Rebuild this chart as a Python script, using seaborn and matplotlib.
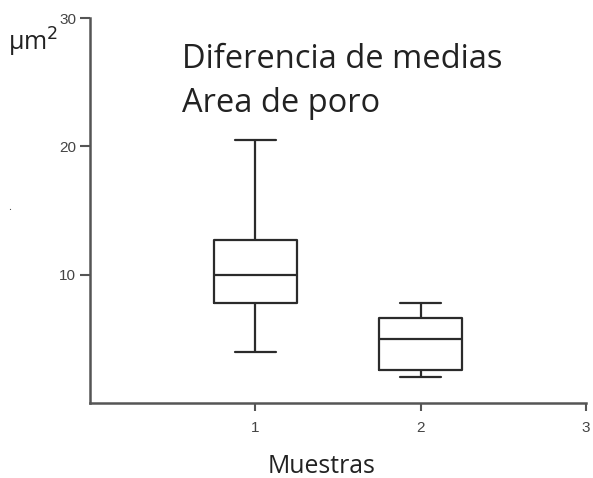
import numpy as np
import pandas as pd
import matplotlib
matplotlib.use("Agg")
import matplotlib.pyplot as plt
import seaborn as sns

# ========== data ==========
muestras = [1, 2]
# min, Q1, median, Q3, max for each sample
sample1 = [4.0, 7.8, 10.0, 12.7, 20.5]
sample2 = [2.0, 2.6, 5.0, 6.6, 7.8]
y_ticks = [10, 20, 30]
x_ticks = [1, 2, 3]

df = pd.DataFrame({
    "Muestra": [muestras[0]] * len(sample1) + [muestras[1]] * len(sample2),
    "Area": sample1 + sample2,
})

sns.set_style("white")
plt.rcParams["font.family"] = ["Open Sans", "DejaVu Sans"]

fig = plt.figure(figsize=(5.93, 4.78), dpi=100)
ax = fig.add_axes([0.152, 0.157, 0.836, 0.805])

sns.boxplot(data=df, x="Muestra", y="Area", native_scale=True, whis=(0, 100),
            width=0.5, fill=False, color="#2b2b2b", linewidth=1.6, ax=ax)

ax.set_xlim(0, 3)
ax.set_ylim(0, 30)
ax.set_xticks(x_ticks)
ax.set_yticks(y_ticks)
ax.tick_params(axis="y", left=True, direction="out", length=7.5, width=1.5,
               color="#555555", labelsize=11, labelcolor="#444444", pad=2.5)
ax.tick_params(axis="x", bottom=True, direction="out", length=6, width=1.5,
               color="#555555", labelsize=11, labelcolor="#444444", pad=7)
for lab in ax.get_xticklabels() + ax.get_yticklabels():
    lab.set_family("Liberation Sans")

sns.despine(ax=ax)
for side in ["left", "bottom"]:
    ax.spines[side].set_color("#555555")
    ax.spines[side].set_linewidth(1.8)

ax.set_ylabel("")
ax.set_xlabel("Muestras", fontsize=17.8, color="#222222")
ax.xaxis.label.set_va("baseline")
ax.xaxis.set_label_coords(0.466, -0.182)

fig.text(0.0135, 0.895, "µm$^2$", fontsize=18, color="#222222", va="baseline")
fig.text(0.307, 0.858, "Diferencia de medias", fontsize=23.5, color="#222222", va="baseline")
fig.text(0.307, 0.765, "Area de poro", fontsize=23.5, color="#222222", va="baseline")
fig.text(0.014, 0.56, ".", fontsize=8, color="#444444")

plt.savefig("out.png", dpi=100)
